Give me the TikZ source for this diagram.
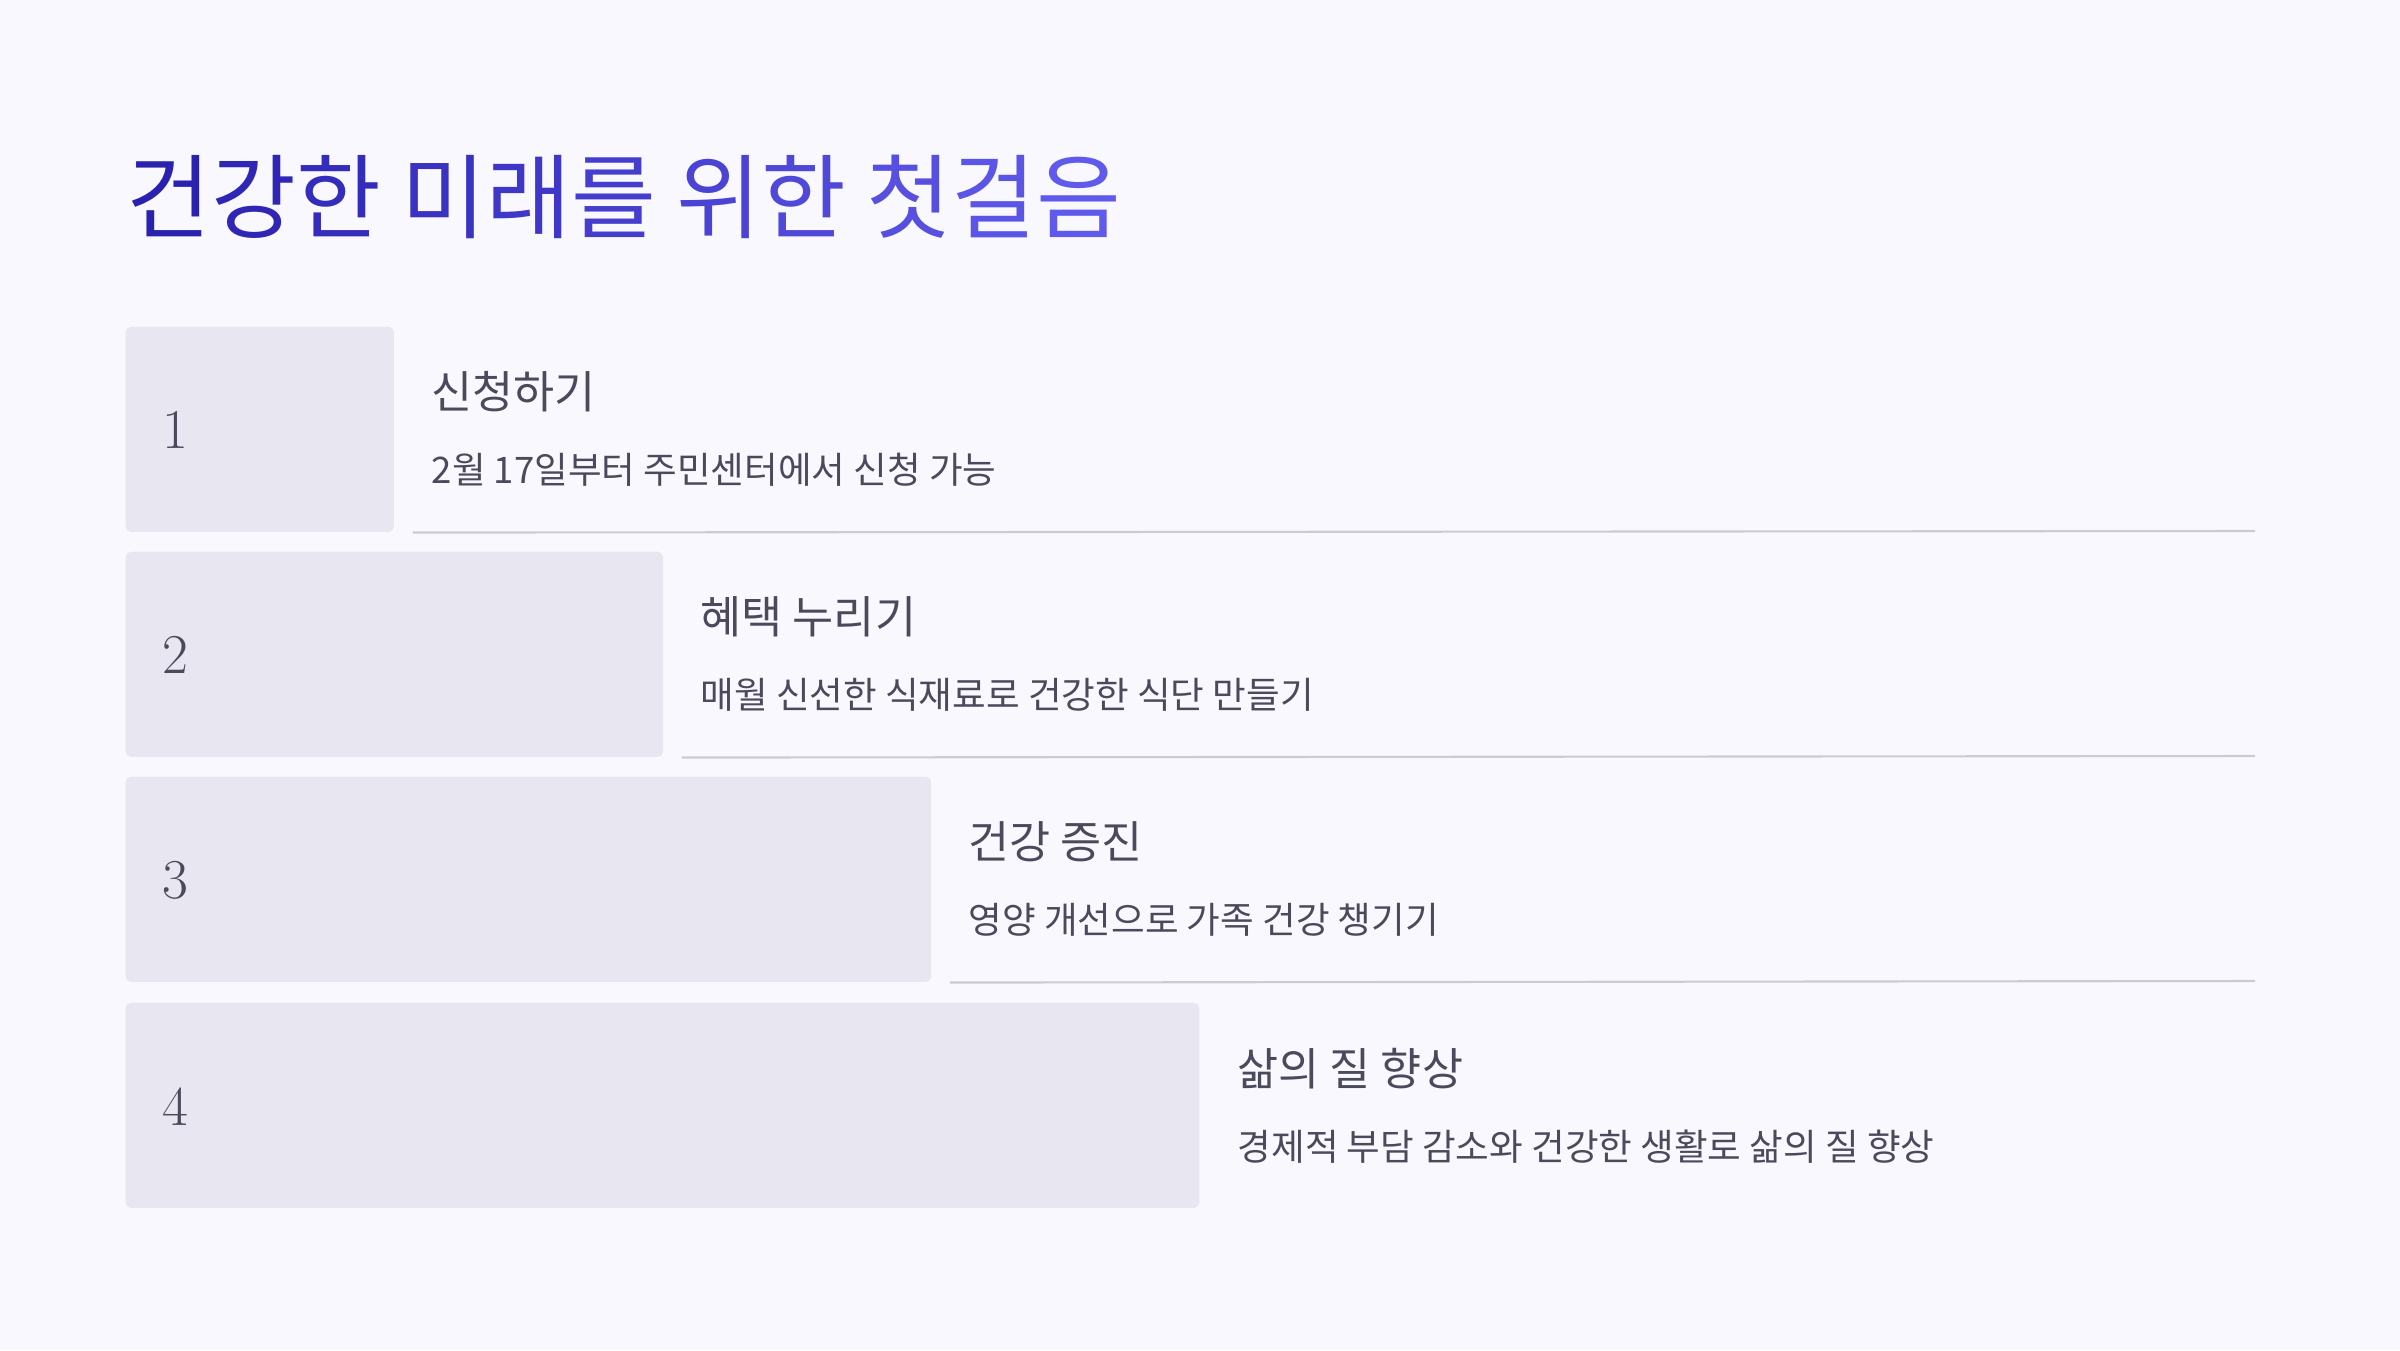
\documentclass[tikz,border=0pt]{standalone}
\usepackage{fontspec}
\newfontfamily\kr{Noto Sans CJK KR}
\definecolor{bgcol}{HTML}{F9F8FE}
\definecolor{boxcol}{HTML}{E8E7F1}
\definecolor{rulecol}{HTML}{CBCBD3}
\definecolor{txtcol}{HTML}{4B4A5C}
\definecolor{titleL}{HTML}{2A21AF}
\definecolor{titleR}{HTML}{605AEC}

\begin{document}
\begin{tikzpicture}[x=0.01cm,y=-0.01cm,
        stepbox/.style={fill=boxcol,rounded corners=1.5pt,anchor=north west,
            inner sep=0pt,minimum height=2.05cm},
        num/.style={anchor=base west,inner sep=0pt,text=txtcol,
            font=\fontsize{16}{19}\selectfont},
        head/.style={anchor=base west,inner sep=0pt,text=txtcol,
            font=\kr\fontsize{12.7}{15}\selectfont},
        sub/.style={anchor=base west,inner sep=0pt,text=txtcol,
            font=\kr\fontsize{10.4}{12}\selectfont},
        sep/.style={draw=rulecol,line width=0.6pt}]
    \fill[bgcol] (0,0) rectangle (2400,1350);

    \node[anchor=base west,inner sep=0pt,font=\kr\fontsize{26.2}{31}\selectfont] (title) at (126,231)
        {\textcolor{titleR!0!titleL}{건}\textcolor{titleR!9!titleL}{강}\textcolor{titleR!19!titleL}{한}
         \textcolor{titleR!30!titleL}{미}\textcolor{titleR!39!titleL}{래}\textcolor{titleR!49!titleL}{를}
         \textcolor{titleR!60!titleL}{위}\textcolor{titleR!69!titleL}{한}
         \textcolor{titleR!81!titleL}{첫}\textcolor{titleR!91!titleL}{걸}\textcolor{titleR!100!titleL}{음}};

    % step 1
    \node[stepbox,minimum width=2.68cm] (box1) at (125,326) {};
    \node[num] (n1) at (162,448) {1};
    \node[head] (h1) at (431,408) {신청하기};
    \node[sub] (s1) at (431,483) {2월 17일부터 주민센터에서 신청 가능};
    \coordinate (e1) at (2255,531);
    \draw[sep] ([xshift=0.18cm]box1.south east) -- (e1);

    % step 2
    \node[stepbox,minimum width=5.37cm] (box2) at (125,551) {};
    \node[num] (n2) at (162,673) {2};
    \node[head] (h2) at (700,633) {혜택 누리기};
    \node[sub] (s2) at (700,708) {매월 신선한 식재료로 건강한 식단 만들기};
    \coordinate (e2) at (2255,756);
    \draw[sep] ([xshift=0.18cm]box2.south east) -- (e2);

    % step 3
    \node[stepbox,minimum width=8.05cm] (box3) at (125,776) {};
    \node[num] (n3) at (162,898) {3};
    \node[head] (h3) at (968,858) {건강 증진};
    \node[sub] (s3) at (968,933) {영양 개선으로 가족 건강 챙기기};
    \coordinate (e3) at (2255,981);
    \draw[sep] ([xshift=0.18cm]box3.south east) -- (e3);

    % step 4
    \node[stepbox,minimum width=10.73cm] (box4) at (125,1002) {};
    \node[num] (n4) at (162,1125) {4};
    \node[head] (h4) at (1237,1085) {삶의 질 향상};
    \node[sub] (s4) at (1237,1160) {경제적 부담 감소와 건강한 생활로 삶의 질 향상};
\end{tikzpicture}
\end{document}
